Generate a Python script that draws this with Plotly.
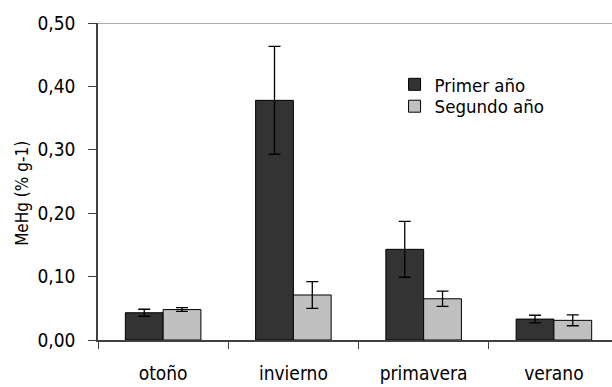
import plotly.graph_objects as go

# Seasonal MeHg values (% g-1) with standard error
estaciones = ["otoño", "invierno", "primavera", "verano"]
primer_anio = [0.043, 0.378, 0.143, 0.033]
primer_err = [0.0055, 0.085, 0.044, 0.006]
segundo_anio = [0.048, 0.071, 0.065, 0.031]
segundo_err = [0.003, 0.021, 0.012, 0.0085]
y_ticks = [0.0, 0.1, 0.2, 0.3, 0.4, 0.5]
y_tick_text = ["0,00", "0,10", "0,20", "0,30", "0,40", "0,50"]

FONT = "DejaVu Sans Condensed, Liberation Sans, Arial, sans-serif"

fig = go.Figure()
fig.add_trace(go.Bar(
    x=estaciones, y=primer_anio, name="Primer año", legend="legend",
    marker=dict(color="#333333", line=dict(color="#000000", width=1)),
    error_y=dict(type="data", array=primer_err, color="#000000", thickness=1.3, width=6),
))
fig.add_trace(go.Bar(
    x=estaciones, y=segundo_anio, name="Segundo año", legend="legend2",
    marker=dict(color="#c0c0c0", line=dict(color="#000000", width=1)),
    error_y=dict(type="data", array=segundo_err, color="#000000", thickness=1.3, width=6),
))

# top border line at 0,50
fig.add_shape(type="line", xref="paper", yref="y", x0=0, x1=1, y0=0.5, y1=0.5,
              line=dict(color="#555555", width=1.2))

# y-axis title, placed slightly below the plot's vertical centre
fig.add_annotation(text="MeHg (% g-1)", textangle=-90, showarrow=False,
                   xref="paper", yref="paper", x=-0.148, y=0.464,
                   xanchor="center", yanchor="middle", font=dict(size=17))

legend_style = dict(xanchor="left", yanchor="top", bgcolor="rgba(0,0,0,0)",
                    font=dict(size=18.5), itemwidth=30)

fig.update_layout(
    width=612, height=387,
    margin=dict(l=98, r=0, t=23, b=47),
    paper_bgcolor="white", plot_bgcolor="white",
    barmode="group", bargap=0.42, bargroupgap=0,
    font=dict(family=FONT, size=19, color="#000000"),
    showlegend=True,
    legend=dict(x=0.577, y=0.865, **legend_style),
    legend2=dict(x=0.577, y=0.796, **legend_style),
)
fig.update_xaxes(
    range=[-0.5, 3.446], tickson="boundaries",
    showline=True, linecolor="#404040", linewidth=1.5,
    ticks="outside", ticklen=7, tickcolor="#404040", tickwidth=1.2,
    ticklabelstandoff=15, showgrid=False, zeroline=False,
)
fig.update_yaxes(
    range=[0, 0.5], tickvals=y_ticks, ticktext=y_tick_text,
    showline=True, linecolor="#404040", linewidth=1.5,
    ticks="outside", ticklen=8, tickcolor="#404040", tickwidth=1.2,
    ticklabelstandoff=9, showgrid=False, zeroline=False,
)

fig.write_html("out.html")
